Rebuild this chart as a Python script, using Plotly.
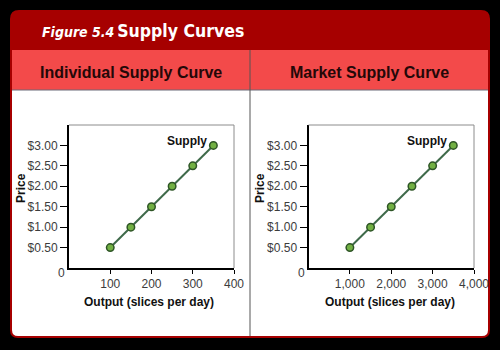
import plotly.graph_objects as go

# ---- data ----
price = [0.5, 1.0, 1.5, 2.0, 2.5, 3.0]
individual_output = [100, 150, 200, 250, 300, 350]
market_output = [1000, 1500, 2000, 2500, 3000, 3500]
price_ticks = [0.5, 1.0, 1.5, 2.0, 2.5, 3.0]
price_labels = ["$0.50", "$1.00", "$1.50", "$2.00", "$2.50", "$3.00"]
ind_ticks = [100, 200, 300, 400]
mkt_ticks = [1000, 2000, 3000, 4000]
ind_minor = [50, 150, 250, 350]
mkt_minor = [500, 1500, 2500, 3500]
panel_titles = ["Individual Supply Curve", "Market Supply Curve"]
fig_title = "Figure 5.4"
fig_subtitle = "Supply Curves"

W, H = 500, 350
def px(x): return x / W
def py(y): return 1 - y / H

FONT = "Liberation Sans, Arial, sans-serif"
NARROW = "Liberation Sans Narrow, DejaVu Sans Condensed, Roboto, sans-serif"
LINE_C = "#3f6a4a"
MARK_FILL = "#72b043"
MARK_EDGE = "#2e5526"

fig = go.Figure()
for xs, xa, ya in ((individual_output, "x", "y"), (market_output, "x2", "y2")):
    fig.add_trace(go.Scatter(x=xs, y=price, mode="lines+markers",
                             line=dict(color=LINE_C, width=2),
                             marker=dict(size=7.5, color=MARK_FILL, line=dict(color=MARK_EDGE, width=1.5)),
                             xaxis=xa, yaxis=ya, showlegend=False, hoverinfo="skip"))

tickfont = dict(family=FONT, size=12, color="#3c3c3c")
common_x = dict(showline=True, linecolor="black", linewidth=2, ticks="outside", ticklen=4,
                tickcolor="black", tickwidth=1, showgrid=True, gridcolor="white", gridwidth=1.5,
                zeroline=False, tickfont=tickfont, fixedrange=True, automargin=False)
common_y = dict(showline=True, linecolor="black", linewidth=2, ticks="outside", ticklen=7,
                tickcolor="black", tickwidth=1, showgrid=True, gridcolor="white", gridwidth=1.5,
                zeroline=False, tickfont=tickfont, range=[0, 3.5], tickmode="array",
                tickvals=price_ticks, ticktext=price_labels, fixedrange=True, automargin=False)

ydom = [py(268), py(125)]
fig.update_layout(
    width=W, height=H, autosize=False, margin=dict(l=0, r=0, t=0, b=0, pad=0),
    paper_bgcolor="black", plot_bgcolor="#dbe3f6",
    xaxis=dict(common_x, domain=[px(69), px(234)], range=[0, 400], tickmode="array",
               tickvals=ind_ticks, anchor="y",
               minor=dict(tickmode="array", tickvals=ind_minor, showgrid=True,
                          gridcolor="white", gridwidth=1.5, ticks="")),
    yaxis=dict(common_y, domain=ydom, anchor="x"),
    xaxis2=dict(common_x, domain=[px(308.5), px(474)], range=[0, 4000], tickmode="array",
                tickvals=mkt_ticks, tickformat=",", anchor="y2",
                minor=dict(tickmode="array", tickvals=mkt_minor, showgrid=True,
                           gridcolor="white", gridwidth=1.5, ticks="")),
    yaxis2=dict(common_y, domain=ydom, anchor="x2"),
)

# ---- panel shapes ----
def rounded_rect(x0, y0, x1, y1, rt, rb):
    X0, X1 = px(x0), px(x1)
    def Y(v): return py(v)
    rtx, rty = rt / W, rt / H
    rbx, rby = rb / W, rb / H
    return (f"M {X0+rtx},{Y(y0)} L {X1-rtx},{Y(y0)} Q {X1},{Y(y0)} {X1},{Y(y0)-rty} "
            f"L {X1},{Y(y1)+rby} Q {X1},{Y(y1)} {X1-rbx},{Y(y1)} "
            f"L {X0+rbx},{Y(y1)} Q {X0},{Y(y1)} {X0},{Y(y1)+rby} "
            f"L {X0},{Y(y0)-rty} Q {X0},{Y(y0)} {X0+rtx},{Y(y0)} Z")

shapes = [
    dict(type="path", xref="paper", yref="paper", path=rounded_rect(10, 10, 490, 338, 9, 8),
         fillcolor="#a60000", line=dict(width=0), layer="below"),
    dict(type="rect", xref="paper", yref="paper", x0=px(12), x1=px(488), y0=py(90), y1=py(50),
         fillcolor="#f34a4a", line=dict(width=0), layer="below"),
    dict(type="path", xref="paper", yref="paper", path=rounded_rect(12, 90, 488, 336, 0, 6),
         fillcolor="white", line=dict(width=0), layer="below"),
    dict(type="line", xref="paper", yref="paper", x0=px(12), x1=px(488), y0=py(90), y1=py(90),
         line=dict(color="#6b6b78", width=1), layer="below"),
    dict(type="line", xref="paper", yref="paper", x0=px(250), x1=px(250), y0=py(50), y1=py(336),
         line=dict(color="#555555", width=1), layer="below"),
]
for xa, ya in (("x", "y"), ("x2", "y2")):
    shapes.append(dict(type="line", xref=f"{xa} domain", yref=f"{ya} domain", x0=0, x1=1, y0=1, y1=1,
                       line=dict(color="#8c8c8c", width=1)))
    shapes.append(dict(type="line", xref=f"{xa} domain", yref=f"{ya} domain", x0=1, x1=1, y0=0, y1=1,
                       line=dict(color="#8c8c8c", width=1)))
fig.update_layout(shapes=shapes)

ann = []
ann.append(dict(xref="paper", yref="paper", x=px(40), y=py(31), xanchor="left", yanchor="middle",
                text=(f"<b><i><span style='font-size:14px'>{fig_title}</span></i></b>"
                      f"<span style='font-size:10px'> </span><b>{fig_subtitle}</b>"),
                showarrow=False, font=dict(family=NARROW, size=17.5, color="white")))
for cx, t in zip((131, 369), panel_titles):
    ann.append(dict(xref="paper", yref="paper", x=px(cx), y=py(72), xanchor="center", yanchor="middle",
                    text=f"<b>{t}</b>", showarrow=False,
                    font=dict(family=FONT, size=16, color="#240808")))
for (xa, ya, pricex, zx, xt_cx, sx) in (("x", "y", 21, 61.5, 149, 350), ("x2", "y2", 260, 301.5, 390, 3500)):
    ann.append(dict(xref="paper", yref="paper", x=px(pricex), y=py(188), xanchor="center", yanchor="middle",
                    text="<b>Price</b>", textangle=-90, showarrow=False,
                    font=dict(family=FONT, size=12, color="#111")))
    ann.append(dict(xref="paper", yref="paper", x=px(zx), y=py(273), xanchor="center", yanchor="middle",
                    text="0", showarrow=False, font=tickfont))
    ann.append(dict(xref="paper", yref="paper", x=px(xt_cx), y=py(302), xanchor="center", yanchor="middle",
                    text="<b>Output (slices per day)</b>", showarrow=False,
                    font=dict(family=FONT, size=12, color="#111")))
    ann.append(dict(xref=xa, yref=ya, x=sx, y=3.0, xanchor="right", yanchor="bottom", xshift=-4, yshift=-5,
                    text="<b>Supply</b>", showarrow=False,
                    font=dict(family=FONT, size=12, color="#111")))
fig.update_layout(annotations=ann)

fig.write_html("out.html", config={"responsive": False, "displayModeBar": False},
               post_script="document.documentElement.style.overflow='hidden';"
                           "document.body.style.margin='0';document.body.style.overflow='hidden';")
